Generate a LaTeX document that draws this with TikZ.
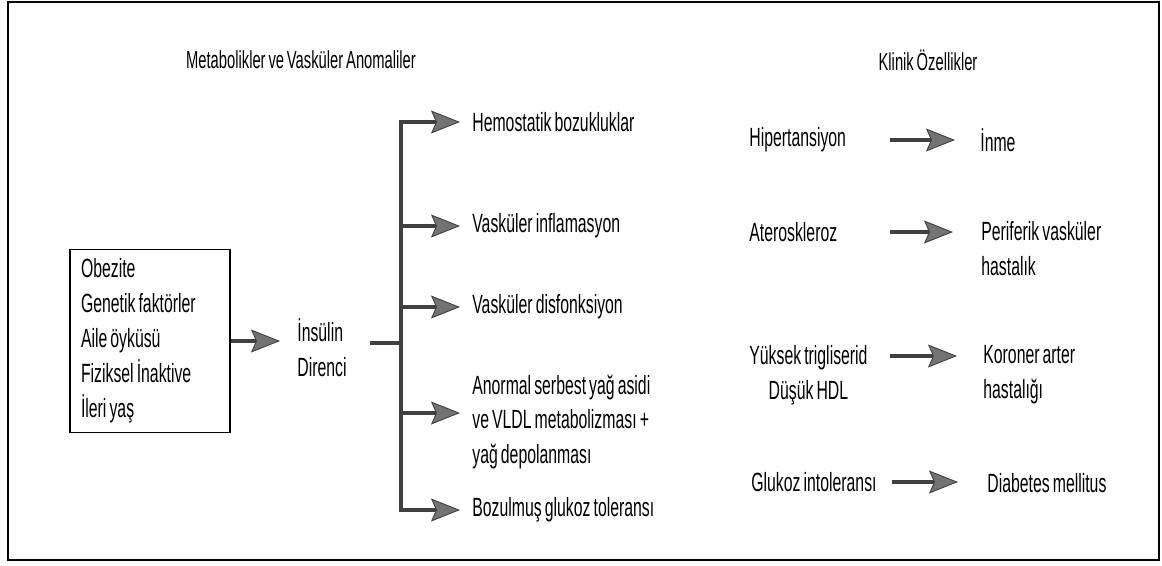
\documentclass[tikz,border=0pt]{standalone}
\usepackage{fontspec}
\setmainfont{Liberation Sans}[FakeStretch=0.6, WordSpace=0.7]
\usetikzlibrary{arrows.meta}

\tikzset{
  txt/.style={inner sep=0pt, anchor=west, font=\fontsize{15}{19.9}\selectfont,
      execute at begin node={\spaceskip=0pt\xspaceskip=0pt\relax}},
  head/.style={font=\fontsize{14}{16}\selectfont, inner sep=0pt},
  stem/.style={draw=black!75, line width=1.8pt},
  arr/.style={stem, -{Stealth[length=0.58cm, width=0.46cm, inset=0.1cm,
      line width=0.5pt, fill=black!55]}},
  cause/.style={txt, text width=2.8cm, align=left},
}

\begin{document}
\begin{tikzpicture}[x=0.02cm, y=-0.02cm]
\useasboundingbox (0,0) rectangle (1162,565);
\draw[line width=0.9pt] (8,2) rectangle (1159,560);

% headings
\node[head] (metab) at (301,60) {Metabolikler ve Vasküler Anomaliler};
\node[head] (klinik) at (928,60) {Klinik Özellikler};

% left part
\node[draw, line width=0.9pt, txt, anchor=center, text width=2.76cm,
      inner xsep=0.22cm, minimum height=3.66cm, align=left] (risk) at (150,341)
  {Obezite\\Genetik faktörler\\Aile öyküsü\\Fiziksel İnaktive\\İleri yaş};
\node[txt, align=left] (ins) at (297,348) {İnsülin\\Direnci};
\draw[arr, shorten >=0.34cm] (risk.east) -- (risk.east -| ins.west);

\coordinate (stub) at (370,343);
\coordinate (junc) at (401,343);
\coordinate (ttop) at (401,122);
\coordinate (tbot) at (401,510);
\draw[stem] (stub) -- (junc);
\draw[stem, line cap=rect] (ttop) -- (tbot);

\node[txt] (hem) at (472,122) {Hemostatik bozukluklar};
\node[txt] (infl) at (472,226) {Vasküler inflamasyon};
\node[txt] (disf) at (472,307) {Vasküler disfonksiyon};
\node[txt, align=left] (anor) at (472,422)
  {Anormal serbest yağ asidi\\ve VLDL metabolizması +\\yağ depolanması};
\node[txt] (gluk) at (472,510) {Bozulmuş glukoz toleransı};
\coordinate (anorin) at ([yshift=0.18cm]anor.west);

\draw[arr, shorten >=0.24cm] (ttop) -- (hem.west);
\draw[arr, shorten >=0.24cm] (ttop |- infl.west) -- (infl.west);
\draw[arr, shorten >=0.24cm] (ttop |- disf.west) -- (disf.west);
\draw[arr, shorten >=0.24cm] (ttop |- anorin) -- (anorin);
\draw[arr, shorten >=0.24cm] (tbot) -- (gluk.west);

% right part
\node[cause] (hip) at (749,140) {Hipertansiyon};
\node[cause] (ate) at (749,232) {Ateroskleroz};
\node[cause] (yuk) at (749,375)
  {\begin{tabular}{@{}c@{}}Yüksek trigliserid\\Düşük HDL\end{tabular}};
\node[cause] (glu) at (751,482) {Glukoz intoleransı};

\node[txt] (inme) at (980,140) {İnme};
\node[txt, align=left] (peri) at (981,249) {Periferik vasküler\\hastalık};
\node[txt, align=left] (kor) at (983,375) {Koroner arter\\hastalığı};
\node[txt] (diab) at (987,483) {Diabetes mellitus};
\coordinate (yukout) at ([yshift=0.38cm]yuk.east);

\draw[arr, shorten >=0.5cm] (hip.east) -- (inme.west);
\draw[arr, shorten >=0.56cm] (ate.east) -- (ate.east -| peri.west);
\draw[arr, shorten >=0.52cm] (yukout) -- (yukout -| kor.west);
\draw[arr, shorten >=0.58cm] (glu.east) -- (glu.east -| diab.west);
\end{tikzpicture}
\end{document}
